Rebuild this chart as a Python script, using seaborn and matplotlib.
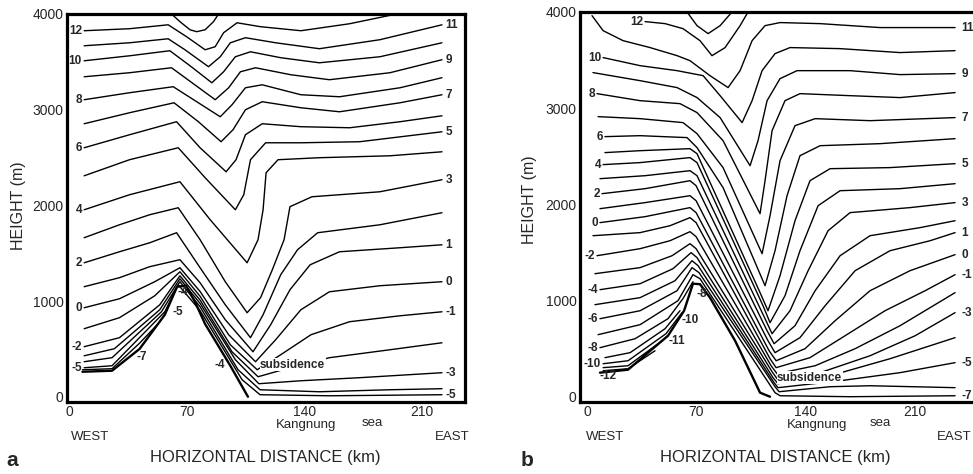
import matplotlib
matplotlib.use("Agg")
import matplotlib.pyplot as plt
import seaborn as sns
import pandas as pd

sns.set_style("white")
plt.rcParams["font.family"] = ["Liberation Sans", "DejaVu Sans"]

# ---------------------------------------------------------------------------
# isotherms: (distance km, height m)
# panel a
# ---------------------------------------------------------------------------
A13 = [(61, 4000), (66, 3920), (72, 3835), (76, 3815), (81, 3835), (86, 3920), (89, 4000)]
A12 = [(9, 3825), (36, 3846), (59, 3887), (70, 3762), (81, 3626), (87, 3658), (92, 3804),
       (100, 3908), (114, 3867), (138, 3825), (167, 3898), (195, 4000)]
A11 = [(9, 3668), (36, 3699), (59, 3741), (69, 3626), (83, 3449), (90, 3553), (96, 3699),
       (105, 3752), (123, 3699), (149, 3637), (185, 3731), (222, 3887)]
A10 = [(9, 3511), (36, 3563), (60, 3616), (72, 3459), (85, 3281), (92, 3396), (99, 3553),
       (108, 3605), (126, 3543), (149, 3490), (185, 3553), (222, 3699)]
A9 = [(9, 3344), (36, 3386), (61, 3438), (74, 3271), (87, 3104), (95, 3229), (102, 3396),
      (111, 3438), (132, 3365), (155, 3313), (191, 3386), (222, 3522)]
A8 = [(9, 3104), (36, 3177), (62, 3240), (76, 3083), (90, 2926), (97, 3051), (105, 3229),
      (115, 3260), (138, 3156), (161, 3135), (197, 3229), (222, 3334)]
A7 = [(9, 2853), (36, 2968), (62.5, 3072), (77, 2874), (90.5, 2665), (97.6, 2790), (105, 2999),
      (115, 3083), (138, 3020), (161, 2978), (197, 3072), (222, 3156)]
A6 = [(9, 2602), (36, 2738), (64, 2874), (78, 2602), (93.5, 2351), (99.4, 2477), (105, 2738),
      (115, 2853), (138, 2822), (167, 2811), (197, 2874), (222, 2936)]
A5 = [(9, 2309), (36, 2477), (65, 2602), (81, 2289), (99, 1954), (104, 2111), (108, 2477),
      (117, 2654), (138, 2654), (173, 2665), (222, 2769)]
A4 = [(9, 1954), (36, 2111), (66, 2247), (84, 1850), (106, 1400), (112.5, 1641), (115.5, 1954),
      (117.3, 2341), (124.4, 2477), (149, 2498), (191, 2518), (222, 2560)]
A3 = [(9, 1662), (30, 1797), (48, 1902), (65, 1975), (78, 1641), (93, 1202), (106, 878),
      (114, 1035), (121, 1327), (128, 1641), (131.5, 1986), (144.6, 2090), (185, 2142), (222, 2268)]
A2 = [(9, 1400), (30, 1515), (48, 1609), (64, 1714), (78, 1348), (93, 961), (108, 617),
      (115.5, 857), (126, 1275), (136, 1536), (148, 1714), (185, 1797), (222, 1923)]
A1 = [(9, 1150), (30, 1244), (48, 1359), (66, 1432), (78, 1191), (93, 805), (109.5, 470),
      (120, 752), (131.5, 1118), (143.5, 1379), (161, 1515), (197, 1557), (222, 1588)]
A0 = [(9, 930), (30, 1024), (51, 1202), (66, 1348), (78, 1100), (95, 648), (111, 366),
      (123, 596), (138, 909), (155, 1097), (185, 1160), (222, 1202)]
A_1 = [(9, 711), (30, 826), (51, 1055), (66, 1306), (78, 1050), (96, 543), (112, 282),
       (126, 439), (144, 648), (167, 784), (197, 846), (222, 888)]
A_2 = [(9, 523), (30, 617), (54, 961), (66, 1264), (78, 1010), (97, 470), (112.5, 209),
       (131.5, 303), (155, 408), (191, 491), (222, 564)]
A_3 = [(9, 428), (27, 502), (54, 909), (66, 1233), (78, 975), (99, 387), (113, 136),
       (138, 167), (173, 199), (222, 251)]
A_4 = [(9, 366), (25.6, 408), (55, 888), (66, 1202), (78, 940), (100.6, 282), (113.7, 73),
       (149, 52), (191, 73), (222, 84)]
A_5 = [(9, 303), (25.6, 324), (57, 888), (65, 1170), (78, 900), (103, 178), (113.7, 21),
       (155, 10), (222, 21)]
A_6 = [(8, 282), (25.6, 293), (42, 560), (52.4, 752)]
A_TERRAIN = [(8, 261), (25.6, 272), (42, 500), (57, 857), (64.3, 1150), (69.6, 1160),
             (75, 990), (81, 760), (95.8, 330), (106.5, 0)]

A_LEVELS = [13, 12, 11, 10, 9, 8, 7, 6, 5, 4, 3, 2, 1, 0, -1, -2, -3, -4, -5, -6]
A_LINES = [A13, A12, A11, A10, A9, A8, A7, A6, A5, A4, A3, A2, A1, A0,
           A_1, A_2, A_3, A_4, A_5, A_6]
A_LEFT_LABELS = [12, 10, 8, 6, 4, 2, 0, -2, -5]
A_RIGHT_LABELS = [11, 9, 7, 5, 3, 1, 0, -1, -3, -5]
A_INNER = [("-4", 67.9, 1097), ("-5", 64.9, 888), ("-7", 43.5, 418), ("-4", 89.5, 330)]

# ---------------------------------------------------------------------------
# panel b
# ---------------------------------------------------------------------------
B13 = [(64.1, 4000), (70.5, 3858), (77.6, 3775), (85.3, 3858), (92.9, 4000)]
B12 = [(37.2, 3900), (50, 3879), (61.5, 3827), (72.4, 3702), (80.1, 3546), (88.5, 3630),
       (98.1, 3858), (103.2, 4000)]
B11 = [(3.2, 3962), (10.3, 3806), (23.1, 3702), (40.4, 3630), (57.7, 3546), (66, 3494),
       (78.8, 3338), (90.4, 3214), (98.1, 3390), (105.8, 3702), (114.1, 3858), (123.7, 3890),
       (149.4, 3879), (187.8, 3838), (235.9, 3838)]
B10 = [(10.3, 3526), (34, 3442), (57.7, 3390), (74.4, 3338), (85.3, 3130), (99.4, 2850),
       (105.8, 3078), (112.2, 3390), (120.5, 3567), (130.1, 3630), (162.2, 3619), (200.6, 3578),
       (235.9, 3598)]
B9 = [(3.8, 3370), (34, 3286), (57.7, 3214), (70.5, 3110), (85.3, 2902), (104.5, 2402),
      (109.6, 2662), (115.4, 3078), (123.7, 3307), (134.6, 3390), (168.6, 3390), (200.6, 3349),
      (235.9, 3359)]
B8 = [(6.4, 3151), (34, 3078), (59.6, 3047), (70.5, 2954), (87.2, 2662), (110.9, 1903),
      (114.1, 2246), (118.6, 2766), (126.9, 3078), (136.5, 3151), (168.6, 3130), (200.6, 3110),
      (235.9, 3162)]
B7 = [(7.1, 2912), (34, 2891), (61.5, 2850), (70.5, 2735), (87.2, 2382), (112.2, 1487),
      (117.3, 1882), (123.7, 2454), (133.3, 2818), (146.2, 2891), (181.4, 2870), (235.9, 2902)]
B6 = [(11.5, 2704), (34, 2714), (64.1, 2694), (70.5, 2590), (87.2, 2174), (114.1, 1154),
      (120.5, 1518), (128.2, 2090), (136.5, 2506), (149.4, 2610), (187.8, 2631), (235.9, 2683)]
B5 = [(11.5, 2538), (34, 2558), (66, 2579), (70.5, 2527), (110.9, 1082), (116, 894),
      (123.7, 1258), (133.3, 1830), (142.9, 2246), (155.8, 2371), (194.2, 2382), (235.9, 2423)]
B4 = [(10.3, 2413), (34, 2434), (66, 2486), (70.5, 2434), (112.8, 946), (117.3, 770),
      (126.9, 1050), (136.5, 1518), (148.1, 1986), (162.2, 2142), (200.6, 2163), (235.9, 2215)]
B3 = [(8.3, 2267), (37.2, 2298), (66, 2350), (70.5, 2298), (114.1, 811), (118.6, 655),
      (130.1, 894), (141.7, 1310), (154.5, 1726), (168.6, 1914), (207, 1966), (235.9, 2018)]
B2 = [(9.6, 2111), (37.2, 2163), (66, 2246), (69.9, 2194), (115.4, 686), (119.9, 551),
      (133.3, 738), (146.2, 1102), (162.2, 1466), (181.4, 1674), (213.5, 1758), (235.9, 1830)]
B1 = [(8.3, 1955), (37.2, 2018), (66, 2090), (69.9, 2038), (116, 582), (120.5, 458),
      (136.5, 614), (152.6, 946), (171.8, 1310), (194.2, 1518), (219.9, 1622), (235.9, 1706)]
B0 = [(8.3, 1810), (37.2, 1872), (66, 1966), (69.9, 1914), (116.7, 478), (121.2, 374),
      (139.7, 499), (159, 790), (181.4, 1102), (207, 1310), (235.9, 1477)]
B_1 = [(3.8, 1674), (34, 1706), (53.2, 1778), (66, 1862), (69.9, 1810), (117.3, 395),
       (121.2, 302), (142.9, 406), (165.4, 634), (191, 894), (216.7, 1102), (235.9, 1269)]
B_2 = [(6.4, 1466), (34, 1539), (53.2, 1622), (66, 1716), (69.9, 1664), (118, 322),
       (121.8, 239), (146.2, 322), (171.8, 499), (200.6, 738), (235.9, 1082)]
B_3 = [(5.1, 1279), (34, 1342), (54.5, 1466), (66, 1591), (69.9, 1539), (118.6, 260),
       (121.8, 187), (149.4, 250), (181.4, 426), (210.3, 634), (235.9, 874)]
B_4 = [(8.3, 1113), (34, 1175), (55.1, 1331), (66.7, 1498), (70.5, 1446), (119.2, 198),
       (122.4, 135), (155.8, 218), (194.2, 395), (235.9, 614)]
B_5 = [(5.1, 957), (34, 1030), (56.4, 1206), (67.3, 1414), (71.2, 1362), (119.9, 146),
       (122.4, 94), (162.2, 166), (200.6, 250), (235.9, 354)]
B_6 = [(8.3, 811), (34, 894), (57.7, 1102), (67.3, 1342), (71.8, 1290), (120.5, 104),
       (123.1, 52), (155.8, 104), (181.4, 114), (235.9, 94)]
B_7 = [(7.1, 645), (34, 749), (58.3, 998), (67.9, 1269), (72.4, 1227), (120.5, 42),
       (123.7, 10), (168.6, 0), (235.9, 10)]
B_8 = [(8.3, 510), (30.8, 603), (51.9, 811), (61.5, 1020), (67.9, 1196)]
B_9 = [(11.5, 406), (27.6, 458), (50, 707), (59.6, 894)]
B_10 = [(10.3, 343), (26.3, 374), (50.6, 655), (60.9, 874)]
B_11 = [(10.3, 302), (26.3, 322), (48.1, 582)]
B_12 = [(10.3, 270), (26.3, 291), (43.6, 478)]
B_TERRAIN = [(8.3, 250), (26.3, 281), (51.9, 634), (62.2, 894), (67.9, 1175), (72.4, 1170),
             (78.8, 1030), (94.9, 582), (110.9, 42), (117.3, 0)]

B_LEVELS = [13, 12, 11, 10, 9, 8, 7, 6, 5, 4, 3, 2, 1, 0, -1, -2, -3, -4, -5, -6,
            -7, -8, -9, -10, -11, -12]
B_LINES = [B13, B12, B11, B10, B9, B8, B7, B6, B5, B4, B3, B2, B1, B0, B_1, B_2, B_3,
           B_4, B_5, B_6, B_7, B_8, B_9, B_10, B_11, B_12]
B_LEFT_LABELS = [12, 10, 8, 6, 4, 2, 0, -2, -4, -6, -8, -10]
B_RIGHT_LABELS = [11, 9, 7, 5, 3, 1, 0, -1, -3, -5, -7]
B_INNER = [("-8", 73.7, 1071), ("-10", 66, 801), ("-11", 57.7, 582), ("-12", 13.5, 218)]

X_TICKS = [0, 70, 140, 210]
Y_TICKS = [0, 1000, 2000, 3000, 4000]

LABEL_FONT = dict(fontsize=8.5, fontweight="bold",
                  family=["Liberation Sans Narrow", "Liberation Sans", "DejaVu Sans"])


def lines_frame(levels, lines):
    rows = []
    for lev, pts in zip(levels, lines):
        for i, (x, y) in enumerate(pts):
            rows.append({"level": lev, "order": i, "km": x, "m": y})
    return pd.DataFrame(rows)


def draw_panel(ax, levels, lines, terrain, left_labels, right_labels, inner,
               right_x, subs, xlim):
    df = lines_frame(levels, lines)
    sns.lineplot(data=df, x="km", y="m", units="level", estimator=None, sort=False,
                 color="black", lw=1.0, ax=ax, legend=False, solid_joinstyle="round")
    tdf = pd.DataFrame(terrain, columns=["km", "m"])
    sns.lineplot(data=tdf, x="km", y="m", estimator=None, sort=False,
                 color="black", lw=1.7, ax=ax, legend=False, solid_joinstyle="round")

    by_level = dict(zip(levels, lines))
    for lev in left_labels:
        x0, y0 = by_level[lev][0]
        ax.text(x0 - 1.3, y0, str(lev), ha="right", va="center", **LABEL_FONT)
    for lev in right_labels:
        x1, y1 = by_level[lev][-1]
        ax.text(right_x, y1, str(lev), ha="left", va="center", **LABEL_FONT)
    for txt, x, y in inner:
        ax.text(x, y, txt, ha="center", va="center", **LABEL_FONT)
    ax.text(subs[0], subs[1], "subsidence", ha="left", va="center",
            bbox=dict(facecolor="white", edgecolor="none", pad=0.3), **LABEL_FONT)

    ax.set_xlim(*xlim)
    ax.set_ylim(-55, 4000)
    ax.set_xticks(X_TICKS)
    ax.set_yticks(Y_TICKS)
    ax.tick_params(length=0, labelsize=10, pad=2.5)
    ax.set_xlabel("")
    ax.set_ylabel("")
    for sp in ax.spines.values():
        sp.set_linewidth(2.3)
        sp.set_color("black")


fig = plt.figure(figsize=(9.73, 4.74), dpi=100)
ax_a = fig.add_axes([0.0689, 0.1519, 0.4090, 0.8186])
ax_b = fig.add_axes([0.5961, 0.1519, 0.4214, 0.8228])

draw_panel(ax_a, A_LEVELS, A_LINES, A_TERRAIN, A_LEFT_LABELS, A_RIGHT_LABELS, A_INNER,
           224, (113.7, 334), (-1.2, 235.7))
draw_panel(ax_b, B_LEVELS, B_LINES, B_TERRAIN, B_LEFT_LABELS, B_RIGHT_LABELS, B_INNER,
           240, (121.8, 198), (-4.5, 258.3))

# text under the axes
for x, txt in [(0.0925, "WEST"), (0.4645, "EAST"), (0.6218, "WEST"), (0.9805, "EAST")]:
    fig.text(x, 0.078, txt, ha="center", va="center", fontsize=9.5)
for x, txt, y in [(0.3150, "Kangnung", 0.1034), (0.3823, "sea", 0.1076),
                  (0.8397, "Kangnung", 0.1034), (0.9044, "sea", 0.1076)]:
    fig.text(x, y, txt, ha="center", va="center", fontsize=9.5)
for x in (0.2724, 0.7965):
    fig.text(x, 0.0338, "HORIZONTAL DISTANCE (km)", ha="center", va="center", fontsize=12)
for x, y in [(0.0185, 0.567), (0.5447, 0.578)]:
    fig.text(x, y, "HEIGHT (m)", ha="center", va="center", rotation=90, fontsize=11.5)
fig.text(0.0123, 0.0295, "a", ha="center", va="center", fontsize=15, fontweight="bold")
fig.text(0.5416, 0.0295, "b", ha="center", va="center", fontsize=15, fontweight="bold")

fig.savefig("out.png", dpi=100)
